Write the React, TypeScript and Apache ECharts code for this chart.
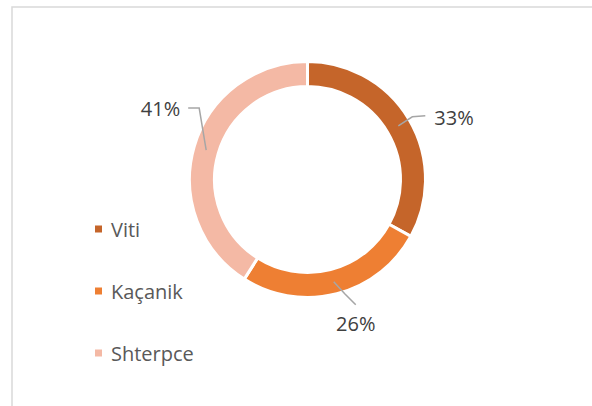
import React, { useEffect, useRef } from "react";
import * as echarts from "echarts";

const categories = ["Viti", "Kaçanik", "Shterpce"];
const values = [33, 26, 41];
const colors = ["#C5652A", "#EE7F33", "#F4B9A5"];

const CX = 307.5;
const CY = 179.5;
const R0 = 93;
const R1 = 118;

// leader-line shape per slice (offsets from the anchor on the ring)
const guides = [
  { elbow: [14, -9], end: [27, -10], align: "left", vAlign: "middle", lab: [9, 2] },
  { elbow: [11, 12], end: [22, 23], align: "center", vAlign: "top", lab: [0, 9] },
  { elbow: [-7, -42], end: [-18, -42], align: "right", vAlign: "middle", lab: [-8, 0] },
];

export default function App() {
  const ref = useRef<HTMLDivElement>(null);
  useEffect(() => {
    if (!ref.current) return;
    const chart = echarts.init(ref.current, undefined, { renderer: "svg" });
    const total = values.reduce((a, b) => a + b, 0);
    const anchors: number[][] = [];
    let acc = 0;
    values.forEach((v) => {
      const mid = ((acc + v / 2) / total) * Math.PI * 2;
      acc += v;
      const ang = Math.PI / 2 - mid;
      const rm = (R0 + R1) / 2;
      anchors.push([CX + rm * Math.cos(ang), CY - rm * Math.sin(ang)]);
    });
    const lines = anchors.map((a, i) => {
      const g = guides[i];
      return {
        type: "polyline",
        z: 100,
        silent: true,
        shape: {
          points: [a, [a[0] + g.elbow[0], a[1] + g.elbow[1]], [a[0] + g.end[0], a[1] + g.end[1]]],
        },
        style: { stroke: "#a6a6a6", lineWidth: 1.5, fill: "none" },
      };
    });
    chart.setOption({
      animation: false,
      backgroundColor: "#ffffff",
      textStyle: { fontFamily: "Open Sans" },
      graphic: [
        {
          type: "rect",
          shape: { x: 12, y: 7, width: 600, height: 420 },
          style: { fill: "none", stroke: "#d9d9d9", lineWidth: 1.5 },
          silent: true,
        },
        ...lines,
      ],
      legend: {
        orient: "vertical",
        left: 93,
        top: 215,
        padding: 0,
        itemGap: 34,
        itemWidth: 9,
        itemHeight: 9,
        icon: "rect",
        data: categories,
        textStyle: { fontSize: 20, lineHeight: 28, color: "#595959", fontFamily: "Open Sans", padding: [0, 0, 0, 3] },
      },
      series: [
        {
          type: "pie",
          center: [CX, CY],
          radius: [R0, R1],
          startAngle: 90,
          itemStyle: { borderColor: "#ffffff", borderWidth: 3 },
          label: {
            show: true,
            position: "outside",
            formatter: (p: any) => Math.round(p.percent) + "%",
            fontSize: 20,
            color: "#404040",
            fontFamily: "Open Sans",
          },
          labelLine: { show: false },
          labelLayout: (params: any) => {
            const i = params.dataIndex;
            const g = guides[i];
            const a = anchors[i];
            return {
              x: a[0] + g.end[0] + g.lab[0],
              y: a[1] + g.end[1] + g.lab[1],
              align: g.align,
              verticalAlign: g.vAlign,
            };
          },
          data: categories.map((c, i) => ({
            name: c,
            value: values[i],
            itemStyle: { color: colors[i] },
          })),
        },
      ],
    });
    return () => chart.dispose();
  }, []);
  return (
    <div
      ref={ref}
      style={{ position: "absolute", left: 0, top: 0, width: 592, height: 406 }}
    />
  );
}
